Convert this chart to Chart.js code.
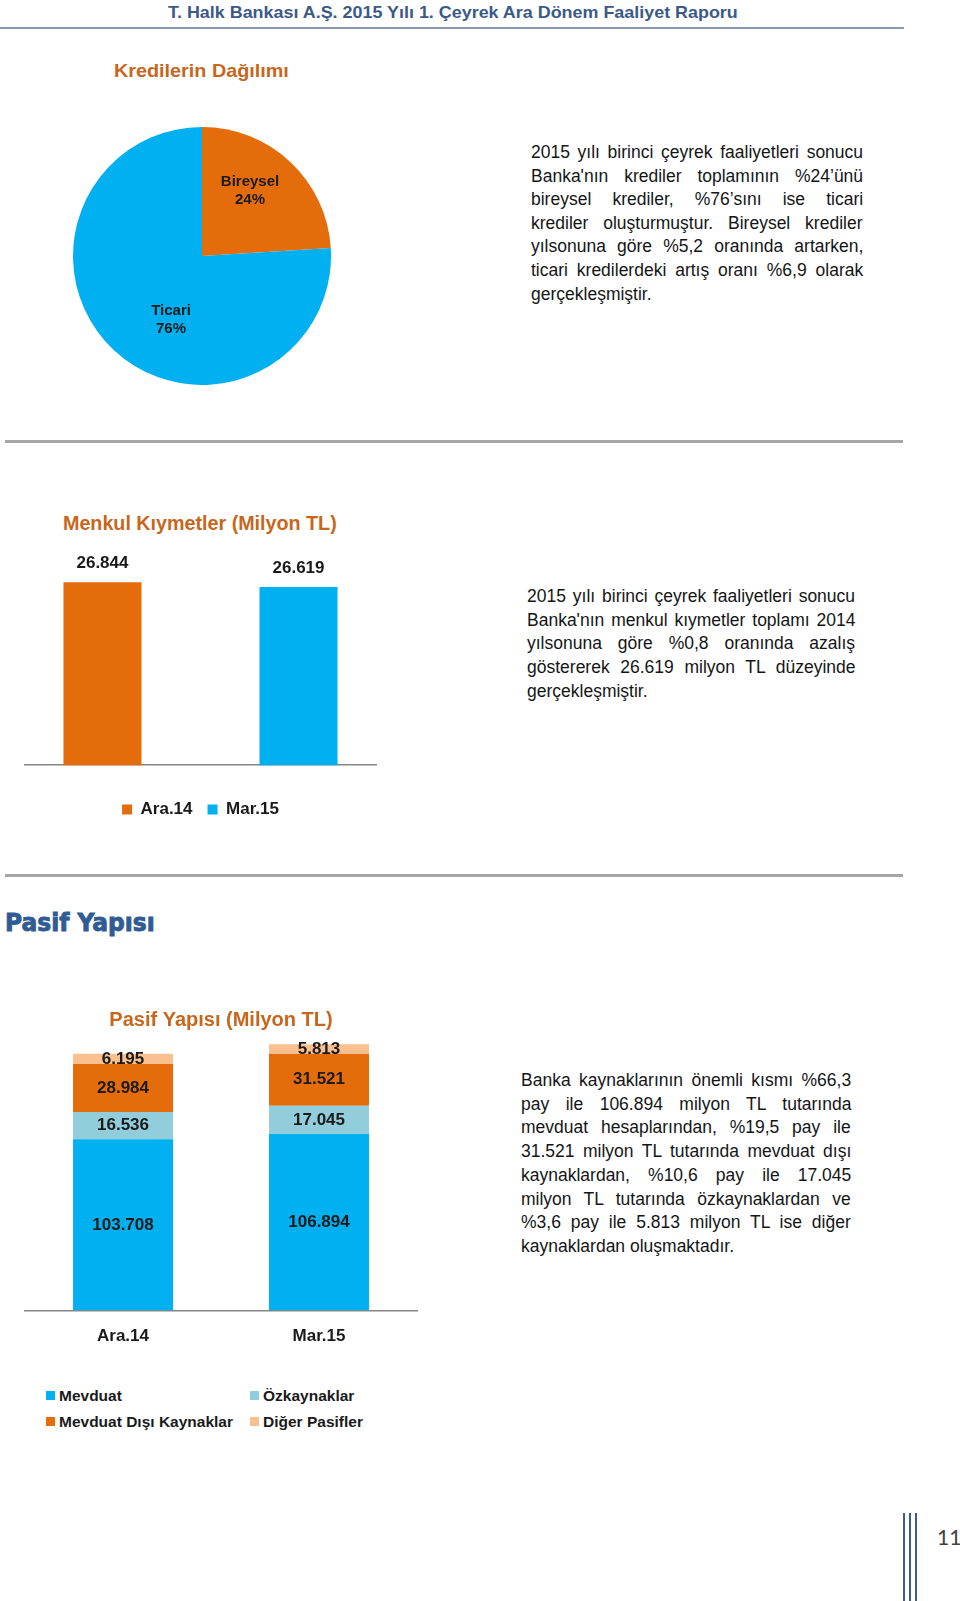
<!DOCTYPE html>
<html lang="tr">
<head>
<meta charset="utf-8">
<title>Halk Bankası 2015 1. Çeyrek</title>
<script src="https://cdn.jsdelivr.net/npm/chart.js@4.4.1/dist/chart.umd.min.js"></script>
<style>
  body { margin: 0; width: 960px; height: 1601px; position: relative; overflow: hidden; background: #fff;
         font-family: "Liberation Sans", Arial, sans-serif; }
  .abs { position: absolute; }
  .fit { white-space: nowrap; display: inline-block; transform-origin: 0 50%; }
  .rule { position: absolute; left: 5px; width: 898px; height: 3px; background: #a6a6a6; }
  .line { position: absolute; font-size: 17.5px; color: #151515; white-space: nowrap; height: 24px; line-height: 24px; }
  .leg { position: absolute; font-size: 15.5px; font-weight: bold; color: #1a1a1a; white-space: nowrap; line-height: 20px; }
  .leg i { display: inline-block; width: 9px; height: 9px; margin-right: 4px; vertical-align: 1px; }
  canvas { position: absolute; }
</style>
</head>
<body>

<div class="abs" style="left:0;top:27px;width:904px;height:2px;background:#8a9ab2"></div>
<div class="abs" style="left:168px;top:2px;line-height:22px;font-size:17px;font-weight:bold;color:#3b5a86">
  <span class="fit" data-w="570">T. Halk Bankası A.Ş. 2015 Yılı 1. Çeyrek Ara Dönem Faaliyet Raporu</span></div>

<div class="abs" style="left:114px;top:60px;line-height:22px;font-size:19px;font-weight:bold;color:#c8661c">
  <span class="fit" data-w="175">Kredilerin Dağılımı</span></div>

<canvas id="pie" width="258" height="258" style="left:73px;top:127px"></canvas>
<div id="p1"></div>

<div class="rule" style="top:440px"></div>

<div class="abs" style="left:63px;top:511px;line-height:24px;font-size:21px;font-weight:bold;color:#c8661c">
  <span class="fit" data-w="274">Menkul Kıymetler (Milyon TL)</span></div>

<canvas id="menkul" width="396" height="288" style="left:5px;top:540px"></canvas>
<div id="p2"></div>

<div class="rule" style="top:874px"></div>

<div class="abs" style="left:5px;top:908px;line-height:30px;font-size:24px;font-weight:bold;color:#2f5c94;font-family:'DejaVu Sans',sans-serif;-webkit-text-stroke:0.9px #2f5c94">
  <span class="fit" data-w="150">Pasif Yapısı</span></div>

<canvas id="pasif" width="440" height="363" style="left:0;top:1000px"></canvas>
<div id="pasifLegend"></div>
<div id="p3"></div>

<div class="abs" style="left:903px;top:1513px;width:2px;height:88px;background:#3d5b8e"></div>
<div class="abs" style="left:909px;top:1513px;width:2px;height:88px;background:#3d5b8e"></div>
<div class="abs" style="left:915px;top:1513px;width:2px;height:88px;background:#3d5b8e"></div>
<div class="abs" style="left:937px;top:1524px;font-family:Lato,sans-serif;font-size:21px;color:#404040">11</div>

<script>
// Kredilerin dağılımı (%)
const pieLabels = ['Bireysel', 'Ticari'];
const pieValues = [24, 76];
const pieColors = ['#e46c0a', '#00b0f0'];

// Menkul kıymetler (milyon TL)
const menkulSeries = ['Ara.14', 'Mar.15'];
const menkulValues = [26844, 26619];
const menkulColors = ['#e46c0a', '#00b0f0'];

// Pasif yapısı (milyon TL)
const pasifCategories = ['Ara.14', 'Mar.15'];
const pasifSeries = ['Mevduat', 'Özkaynaklar', 'Mevduat Dışı Kaynaklar', 'Diğer Pasifler'];
const mevduat = [103708, 106894];
const ozkaynaklar = [16536, 17045];
const mevduatDisi = [28984, 31521];
const digerPasifler = [6195, 5813];
const pasifColors = ['#00b0f0', '#92cddc', '#e46c0a', '#fac090'];

const para1 = [
  '2015 yılı birinci çeyrek faaliyetleri sonucu',
  "Banka'nın krediler toplamının %24’ünü",
  'bireysel krediler, %76’sını ise ticari',
  'krediler oluşturmuştur. Bireysel krediler',
  'yılsonuna göre %5,2 oranında artarken,',
  'ticari kredilerdeki artış oranı %6,9 olarak',
  'gerçekleşmiştir.'
];
const para2 = [
  '2015 yılı birinci çeyrek faaliyetleri sonucu',
  "Banka'nın menkul kıymetler toplamı 2014",
  'yılsonuna göre %0,8 oranında azalış',
  'göstererek 26.619 milyon TL düzeyinde',
  'gerçekleşmiştir.'
];
const para3 = [
  'Banka kaynaklarının önemli kısmı %66,3',
  'pay ile 106.894 milyon TL tutarında',
  'mevduat hesaplarından, %19,5 pay ile',
  '31.521 milyon TL tutarında mevduat dışı',
  'kaynaklardan, %10,6 pay ile 17.045',
  'milyon TL tutarında özkaynaklardan ve',
  '%3,6 pay ile 5.813 milyon TL ise diğer',
  'kaynaklardan oluşmaktadır.'
];

const FONT = '"Liberation Sans", Arial, sans-serif';
const fmt = v => String(v).replace(/\B(?=(\d{3})+(?!\d))/g, '.');

// squeeze headings to their width
document.querySelectorAll('.fit').forEach(el => {
  el.style.transform = 'scaleX(' + (el.dataset.w / el.offsetWidth) + ')';
});

// justified paragraph lines, last line left aligned
function paragraph(id, lines, left, top, width, step) {
  const box = document.getElementById(id);
  lines.forEach((t, i) => {
    const d = document.createElement('div');
    d.className = 'line';
    d.textContent = t;
    d.style.left = left + 'px';
    d.style.top = (top + i * step - 12) + 'px';
    box.appendChild(d);
    if (i < lines.length - 1) {
      const gaps = t.split(' ').length - 1;
      const extra = width - d.offsetWidth;
      if (gaps > 0) d.style.wordSpacing = (extra / gaps) + 'px';
    }
  });
}
paragraph('p1', para1, 531, 152, 332, 23.6);
paragraph('p2', para2, 527, 596, 328, 23.7);
paragraph('p3', para3, 521, 1080, 330, 23.7);

// labels on bars
const valueText = {
  id: 'valueText',
  afterDatasetsDraw(chart, args, opts) {
    const ctx = chart.ctx;
    ctx.save();
    ctx.font = 'bold 17px ' + FONT;
    ctx.fillStyle = '#1a1a1a';
    ctx.textAlign = 'center';
    ctx.textBaseline = 'middle';
    chart.data.datasets.forEach((ds, i) => {
      chart.getDatasetMeta(i).data.forEach((bar, j) => {
        const p = bar.getProps(['x', 'y', 'base'], true);
        const y = opts.above ? p.y - opts.gap : (p.y + p.base) / 2;
        ctx.fillText(fmt(ds.data[j]), p.x, y);
      });
    });
    ctx.restore();
  }
};

// labels inside pie slices
const pieText = {
  id: 'pieText',
  afterDatasetsDraw(chart, args, opts) {
    const ctx = chart.ctx;
    const data = chart.data.datasets[0].data;
    const total = data.reduce((a, b) => a + b, 0);
    ctx.save();
    ctx.font = 'bold 15px ' + FONT;
    ctx.fillStyle = '#1a1a1a';
    ctx.textAlign = 'center';
    ctx.textBaseline = 'middle';
    chart.getDatasetMeta(0).data.forEach((arc, i) => {
      const p = arc.getProps(['x', 'y', 'startAngle', 'endAngle', 'outerRadius'], true);
      const a = (p.startAngle + p.endAngle) / 2;
      const n = opts.nudge[i];
      const x = p.x + Math.cos(a) * p.outerRadius * opts.radius + n[0];
      const y = p.y + Math.sin(a) * p.outerRadius * opts.radius + n[1];
      ctx.fillText(chart.data.labels[i], x, y - 9);
      ctx.fillText(Math.round(data[i] / total * 100) + '%', x, y + 9);
    });
    ctx.restore();
  }
};

new Chart(document.getElementById('pie'), {
  type: 'pie',
  data: {
    labels: pieLabels,
    datasets: [{ data: pieValues, backgroundColor: pieColors, borderWidth: 0 }]
  },
  options: {
    responsive: false,
    animation: false,
    plugins: {
      legend: { display: false },
      tooltip: { enabled: false },
      pieText: { radius: 0.6, nudge: [[-5, -9], [22, 7]] }
    }
  },
  plugins: [pieText]
});

new Chart(document.getElementById('menkul'), {
  type: 'bar',
  data: {
    labels: [''],
    datasets: menkulSeries.map((s, i) => ({
      label: s,
      data: [menkulValues[i]],
      backgroundColor: menkulColors[i]
    }))
  },
  options: {
    responsive: false,
    animation: false,
    layout: { padding: { left: 20, right: 25, top: 8 } },
    datasets: { bar: { categoryPercentage: 1.117, barPercentage: 0.398 } },
    scales: {
      x: {
        grid: { display: false, drawTicks: false },
        border: { color: '#868686', width: 1.5 },
        ticks: { font: { size: 14 }, padding: 2 }
      },
      y: { display: false, min: 18000, max: 28500 }
    },
    plugins: {
      legend: {
        position: 'bottom',
        labels: {
          boxWidth: 10, boxHeight: 10, padding: 15, color: '#1a1a1a',
          font: { family: FONT, size: 17, weight: 'bold' }
        }
      },
      tooltip: { enabled: false },
      valueText: { above: true, gap: 19 }
    }
  },
  plugins: [valueText]
});

const pasifData = [mevduat, ozkaynaklar, mevduatDisi, digerPasifler];

new Chart(document.getElementById('pasif'), {
  type: 'bar',
  data: {
    labels: pasifCategories,
    datasets: pasifSeries.map((s, i) => ({
      label: s,
      data: pasifData[i],
      backgroundColor: pasifColors[i]
    }))
  },
  options: {
    responsive: false,
    animation: false,
    layout: { padding: { left: 25, right: 23 } },
    datasets: { bar: { categoryPercentage: 1, barPercentage: 0.51 } },
    scales: {
      x: {
        stacked: true,
        grid: { display: false, drawTicks: false },
        border: { color: '#868686', width: 1.5 },
        ticks: { color: '#1a1a1a', padding: 16, font: { family: FONT, size: 17, weight: 'bold' } }
      },
      y: { stacked: true, display: false, min: 0, max: 165000 }
    },
    plugins: {
      title: {
        display: true,
        text: 'Pasif Yapısı (Milyon TL)',
        color: '#c8661c',
        padding: { top: 8, bottom: 6 },
        font: { family: FONT, size: 20, weight: 'bold' }
      },
      legend: { display: false },
      tooltip: { enabled: false },
      valueText: { above: false }
    }
  },
  plugins: [valueText]
});

// legend for the stacked chart, two columns
const legendBox = document.getElementById('pasifLegend');
pasifSeries.forEach((s, i) => {
  const d = document.createElement('div');
  d.className = 'leg';
  d.style.left = (i % 2 ? 250 : 46) + 'px';
  d.style.top = (i < 2 ? 1386 : 1412) + 'px';
  d.innerHTML = '<i style="background:' + pasifColors[i] + '"></i>';
  d.appendChild(document.createTextNode(s));
  legendBox.appendChild(d);
});
</script>
</body>
</html>
